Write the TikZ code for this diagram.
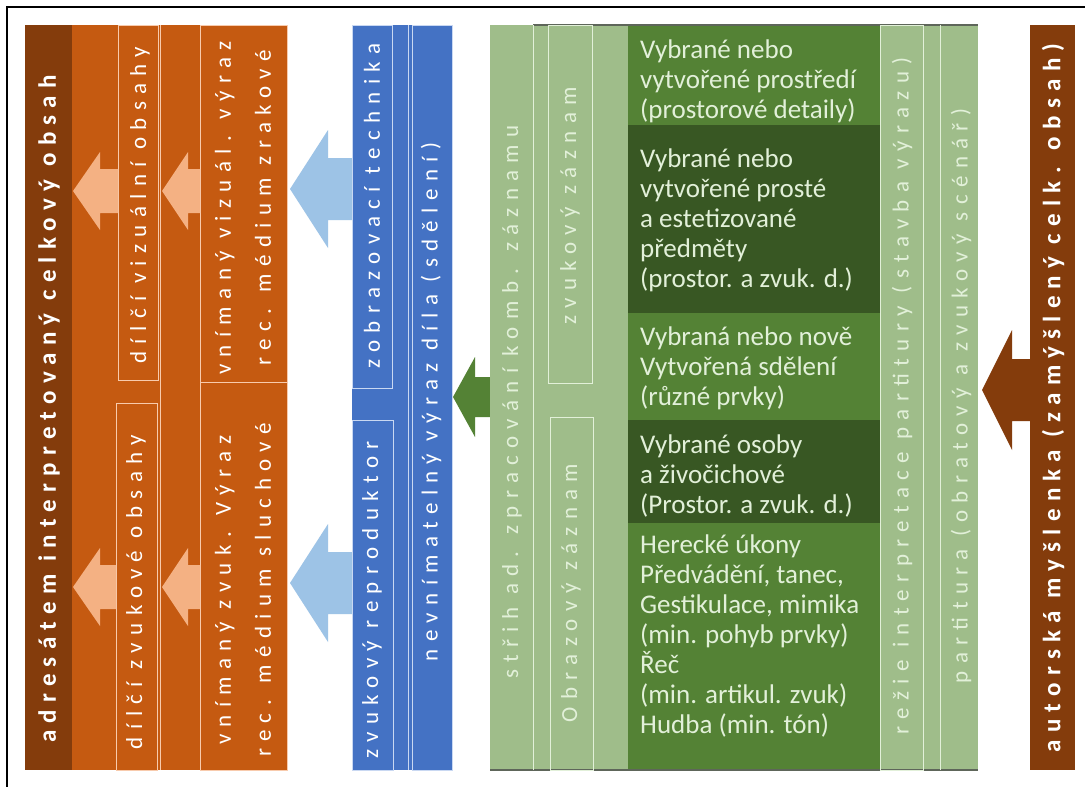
\documentclass[tikz,border=0pt]{standalone}
\usepackage{fontspec}
\setmainfont{Carlito}
\newfontfamily\spacedfont[LetterSpace=32]{Carlito}
\newfontfamily\spacedtitle[LetterSpace=29]{Carlito}
\definecolor{brownD}{HTML}{843C0C}
\definecolor{orangeM}{HTML}{C55A11}
\definecolor{peach}{HTML}{F4B183}
\definecolor{peachL}{HTML}{F8CBAD}
\definecolor{blueM}{HTML}{4472C4}
\definecolor{blueL}{HTML}{9DC3E6}
\definecolor{blueO}{HTML}{C9D8F2}
\definecolor{greenL}{HTML}{9FBD8A}
\definecolor{greenM}{HTML}{548235}
\definecolor{greenD}{HTML}{385723}
\definecolor{greenT}{HTML}{E2F0D9}
\definecolor{edgeG}{HTML}{5E665A}
% left-pointing block arrow: tip x, centre y, head base x, tail x, head half-height, shaft half-height, colour
\newcommand\blockarrow[7]{%
  \fill[#7] (#1,#2) -- (#3,#2-#5) -- (#3,#2-#6) -- (#4,#2-#6) -- (#4,#2+#6)
    -- (#3,#2+#6) -- (#3,#2+#5) -- cycle;}
\begin{document}
\begin{tikzpicture}[x=1pt,y=-1pt,
  vlabel/.style={rotate=90, inner sep=0, text=white, align=center,
    font=\spacedfont\fontsize{23}{40}\selectfont},
  vtitle/.style={vlabel, font=\spacedtitle\bfseries\fontsize{25}{28}\selectfont},
  cell/.style={anchor=north west, inner sep=0, align=left, text=greenT,
    font=\fontsize{27}{30}\selectfont},
  oline/.style={draw=peachL, line width=1pt},
  bline/.style={draw=blueO, line width=1pt},
  gline/.style={draw=greenT, line width=1pt}]
\useasboundingbox (0,0) rectangle (1085,787);
\fill[white] (0,0) rectangle (1085,787);
\draw[line width=2.2pt] (7,787) -- (7,7) -- (1085,7);

% --- receiver side (orange) ---
\fill[brownD] (25,25) rectangle (72,770);
\fill[orangeM] (72,25) rectangle (287,770);
\draw[oline] (160,25) -- (160,770);
\draw[oline] (200,25) rectangle (287,382);
\draw[oline] (200,382) rectangle (287,770);
\draw[oline] (118,25) rectangle (158,380);
\draw[oline] (116,403) rectangle (157,770);
\blockarrow{73}{191}{100}{118}{39}{22}{peach}
\blockarrow{162}{191}{188}{200}{39}{22}{peach}
\blockarrow{73}{587}{100}{116}{39}{22}{peach}
\blockarrow{162}{587}{188}{200}{39}{22}{peach}
\node[vtitle] (adr) at (49,409) {adresátem interpretovaný celkový obsah};
\node[vlabel] (dvo) at (140,205) {dílčí vizuální obsahy};
\node[vlabel] (dzo) at (136,592) {dílčí zvukové obsahy};
\node[vlabel] (vvv) at (243,208) {vnímaný vizuál. výraz\\rec. médium zrakové};
\node[vlabel] (vzv) at (243,590) {vnímaný zvuk. Výraz\\rec. médium sluchové};

% --- transmission (blue) ---
\blockarrow{290}{189}{328}{352}{59}{31}{blueL}
\blockarrow{290}{583}{328}{352}{59}{31}{blueL}
\fill[blueM] (352,25) rectangle (452,770);
\draw[bline] (352,25) rectangle (392,388);
\draw[bline] (352,420) rectangle (393,770);
\draw[bline] (408,25) -- (408,770);
\draw[bline] (412,25) rectangle (452,770);
\node[vlabel] (zt) at (372,206) {zobrazovací technika};
\node[vlabel] (zr) at (372,600) {zvukový reproduktor};
\node[vlabel] (nv) at (431,402) {nevnímatelný výraz díla (sdělení)};

% --- recording and staging (green) ---
\blockarrow{453}{397}{475}{490}{40}{20}{greenM}
\fill[greenL] (490,25) rectangle (628,770);
\fill[greenL] (880,25) rectangle (978,770);
\fill[greenM] (628,25) rectangle (880,125);
\fill[greenD] (628,125) rectangle (880,313);
\fill[greenM] (628,313) rectangle (880,420);
\fill[greenD] (628,420) rectangle (880,523);
\fill[greenM] (628,523) rectangle (880,770);
\draw[edgeG, line width=1.5pt] (533,25) -- (978,25);
\draw[edgeG, line width=1.5pt] (490,770) -- (978,770);
\draw[gline] (533,25) -- (533,770);
\draw[gline] (548,25) rectangle (592,383);
\draw[gline] (550,417) rectangle (593,770);
\draw[gline] (880,25) rectangle (923,770);
\draw[gline] (940,25) -- (940,770);
\node[vlabel, text=greenT] (st) at (512,402) {střih ad. zpracování komb. záznamu};
\node[vlabel, text=greenT] (zz) at (570,206) {zvukový záznam};
\node[vlabel, text=greenT] (oz) at (571,593) {Obrazový záznam};
\node[vlabel, text=greenT] (rz) at (902,396) {režie interpretace partitury (stavba výrazu)};
\node[vlabel, text=greenT] (pt) at (961,396) {partitura (obratový a zvukový scénář)};

\node[cell] (c1) at (640,37) {\strut Vybrané nebo\\vytvořené prostředí\\(prostorové detaily)};
\node[cell] (c2) at (640,146) {\strut Vybrané nebo\\vytvořené prosté\\a estetizované\\předměty\\(prostor. a zvuk. d.)};
\node[cell] (c3) at (640,324) {\strut Vybraná nebo nově\\Vytvořená sdělení\\(různé prvky)};
\node[cell] (c4) at (640,432) {\strut Vybrané osoby\\a živočichové\\(Prostor. a zvuk. d.)};
\node[cell] (c5) at (640,532) {\strut Herecké úkony\\Předvádění, tanec,\\Gestikulace, mimika\\(min. pohyb prvky)\\Řeč\\(min. artikul. zvuk)\\Hudba (min. tón)};

% --- author (brown) ---
\blockarrow{982}{390}{1012}{1030}{60}{31}{brownD}
\fill[brownD] (1030,25) rectangle (1075,770);
\node[vtitle] (am) at (1053,398) {autorská myšlenka (zamýšlený celk. obsah)};
\end{tikzpicture}
\end{document}
